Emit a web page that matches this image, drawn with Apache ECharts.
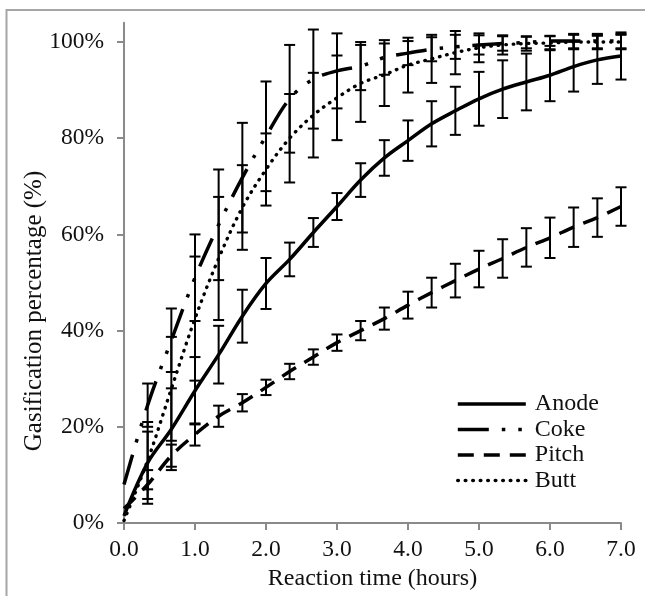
<!DOCTYPE html>
<html>
<head>
<meta charset="utf-8">
<script src="https://cdn.jsdelivr.net/npm/echarts@6/dist/echarts.min.js"></script>
<style>
  html, body { margin: 0; padding: 0; background: #fff; }
  #chart { width: 645px; height: 596px; }
</style>
</head>
<body>
<div id="chart"></div>
<script>
// Sampling times (hours), every 20 minutes
const times = [0, 0.333, 0.667, 1, 1.333, 1.667, 2, 2.333, 2.667, 3, 3.333, 3.667,
               4, 4.333, 4.667, 5, 5.333, 5.667, 6, 6.333, 6.667, 7];

// Gasification percentage (%) and standard deviation per material
const anode    = [1.5, 12.5, 19.5, 27.5, 35, 43, 49.8, 54.8, 60.4, 65.8, 71.3, 75.9,
                  79.5, 83, 85.7, 88.2, 90.2, 91.7, 93.1, 94.9, 96.3, 97.1];
const anodeErr = [0, 8.5, 8.5, 7, 6, 5.5, 5.3, 3.5, 3, 2.8, 3.5, 3.7,
                  4.2, 4.7, 5, 5.6, 6, 5.9, 5.4, 5.2, 5, 4.9];

const coke     = [8, 24.5, 38, 51, 62, 71.8, 80.4, 88.2, 92.3, 94, 95, 96.8,
                  97.7, 98.5, 99, 99.4, 99.7, 99.9, 100.2, 100.2, 100.2, 100.2];
const cokeErr  = [0, 4.5, 6.6, 9, 11.5, 11.4, 11.4, 11.2, 10.3, 7.8, 5, 3.6,
                  2.5, 2.5, 2.5, 2, 1.5, 1.2, 1, 1.5, 1.5, 1.5];

const pitch    = [3, 8, 14, 18.4, 22.2, 25, 28.2, 31.5, 34.5, 37.5, 40, 42.5,
                  45.3, 47.9, 50.4, 52.8, 55, 57.3, 59.3, 61.5, 63.5, 65.8];
const pitchErr = [0, 3, 2.3, 2.3, 2.2, 1.8, 1.6, 1.6, 1.6, 1.7, 2, 2.3,
                  2.8, 3.1, 3.5, 3.8, 4, 4, 4.2, 4.1, 4, 4];

const butt     = [0.5, 13, 27.9, 42.5, 55, 65.6, 73.5, 80, 84.8, 88.4, 91.4, 93.2,
                  95.2, 96.5, 97.8, 98.8, 99.4, 99.7, 99.8, 100, 100, 100];
const buttErr  = [0, 6, 10.8, 12.9, 12.8, 8.8, 7.5, 9.2, 8.8, 8.8, 8, 6.5,
                  5.7, 5, 4.5, 3, 2, 1.5, 1.5, 1.5, 1.5, 1.5];

const yTicks = [0, 20, 40, 60, 80, 100];

const FONT = "'Liberation Serif', 'Times New Roman', serif";
const AXIS_GREY = '#8a8a8a';

function points(vals) {
  return times.map((t, i) => [t, vals[i]]);
}
function ranges(vals, errs) {
  const out = [];
  times.forEach((t, i) => {
    if (errs[i] > 0) out.push([t, vals[i] - errs[i], vals[i] + errs[i]]);
  });
  return out;
}

// vertical whisker with caps at both ends
function renderErrorBar(params, api) {
  const x = api.value(0);
  const lo = api.coord([x, api.value(1)]);
  const hi = api.coord([x, api.value(2)]);
  const w = 5.5;
  const style = { stroke: '#000', lineWidth: 2 };
  return {
    type: 'group',
    children: [
      { type: 'line', shape: { x1: lo[0], y1: lo[1], x2: hi[0], y2: hi[1] }, style },
      { type: 'line', shape: { x1: hi[0] - w, y1: hi[1], x2: hi[0] + w, y2: hi[1] }, style },
      { type: 'line', shape: { x1: lo[0] - w, y1: lo[1], x2: lo[0] + w, y2: lo[1] }, style }
    ]
  };
}

function lineSeries(name, vals, lineStyle) {
  return {
    name,
    type: 'line',
    data: points(vals),
    smooth: 0.35,
    symbol: 'none',
    lineStyle: Object.assign({ color: '#000', width: 3.5 }, lineStyle),
    itemStyle: { color: '#000' },
    z: 3
  };
}

function errorSeries(name, vals, errs) {
  return {
    name,
    type: 'custom',
    data: ranges(vals, errs),
    encode: { x: 0, y: [1, 2] },
    renderItem: renderErrorBar,
    z: 4
  };
}

const chart = echarts.init(document.getElementById('chart'), null, { renderer: 'canvas' });

chart.setOption({
  animation: false,
  backgroundColor: '#fff',
  grid: {
    left: 124, right: 24, top: 22.8, bottom: 73,
    outerBoundsMode: 'none'
  },
  xAxis: {
    type: 'value',
    min: 0, max: 7, interval: 1,
    name: 'Reaction time (hours)',
    nameLocation: 'middle',
    nameGap: 42,
    nameTextStyle: { fontFamily: FONT, fontSize: 24, color: '#111' },
    axisLine: { lineStyle: { color: AXIS_GREY, width: 2 } },
    axisTick: { show: true, inside: false, length: 7, lineStyle: { color: AXIS_GREY, width: 2 } },
    axisLabel: {
      fontFamily: FONT, fontSize: 23.5, color: '#111', margin: 15,
      formatter: v => v.toFixed(1)
    },
    splitLine: { show: false }
  },
  yAxis: {
    type: 'value',
    min: 0, max: 104,
    axisLine: { show: true, lineStyle: { color: AXIS_GREY, width: 2 } },
    axisTick: { show: true, inside: false, length: 7, customValues: yTicks,
                lineStyle: { color: AXIS_GREY, width: 2 } },
    axisLabel: {
      fontFamily: FONT, fontSize: 23.5, color: '#111', margin: 20,
      padding: [5, 0, 0, 0],
      customValues: yTicks,
      formatter: v => v + '%'
    },
    splitLine: { show: false }
  },
  legend: {
    data: ['Anode', 'Coke', 'Pitch', 'Butt'],
    orient: 'vertical',
    left: 456,
    top: 392,
    padding: 0,
    itemWidth: 68,
    itemHeight: 14,
    itemGap: 1.5,
    itemStyle: { opacity: 0, borderWidth: 0 },
    lineStyle: { width: 3.6 },
    textStyle: { fontFamily: FONT, fontSize: 24, color: '#111', padding: [0, 0, 0, 4] },
    selectedMode: false
  },
  graphic: [
    {
      type: 'rect',
      shape: { x: 6.5, y: 10, width: 700, height: 700 },
      style: { fill: 'none', stroke: '#a6a6a6', lineWidth: 2 },
      silent: true
    },
    {
      type: 'text',
      x: 34, y: 311,
      rotation: Math.PI / 2,
      style: {
        text: 'Gasification percentage (%)',
        fontFamily: FONT, fontSize: 25, fill: '#111',
        align: 'center', verticalAlign: 'middle'
      },
      silent: true
    }
  ],
  series: [
    lineSeries('Anode', anode, { type: 'solid' }),
    lineSeries('Coke', coke, { type: [31, 13, 3.5, 13, 3.5, 13] }),
    lineSeries('Pitch', pitch, { type: [16, 10] }),
    lineSeries('Butt', butt, { type: [0.5, 7], width: 3.4, cap: 'round' }),
    errorSeries('Anode SD', anode, anodeErr),
    errorSeries('Coke SD', coke, cokeErr),
    errorSeries('Pitch SD', pitch, pitchErr),
    errorSeries('Butt SD', butt, buttErr)
  ]
});
</script>
</body>
</html>
